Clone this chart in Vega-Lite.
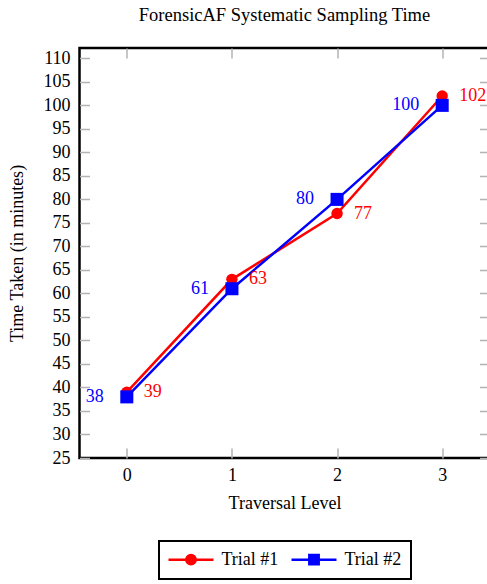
{
  "$schema": "https://vega.github.io/schema/vega-lite/v6.json",
  "autosize": "none",
  "width": 410,
  "height": 410,
  "padding": {"left": 79.5, "top": 48, "right": 0, "bottom": 126},
  "background": "white",
  "title": {"text": "ForensicAF Systematic Sampling Time", "fontSize": 18.5, "fontWeight": "normal", "font": "Liberation Serif", "color": "black", "anchor": "middle", "frame": "group", "baseline": "alphabetic", "offset": 8},
  "config": {
    "font": "Liberation Serif",
    "view": {"stroke": "black", "strokeWidth": 2.5},
    "axis": {"grid": false, "domain": false, "tickColor": "#b3b3b3", "tickWidth": 1.5, "tickSize": -10, "labelFontSize": 18, "labelColor": "black", "labelFont": "Liberation Serif", "titleFont": "Liberation Serif", "titleFontSize": 18, "titleFontWeight": "normal", "titleColor": "black"}
  },
  "data": {"values": [
    {"level": 0, "time": 39, "trial": "Trial #1"},
    {"level": 1, "time": 63, "trial": "Trial #1"},
    {"level": 2, "time": 77, "trial": "Trial #1"},
    {"level": 3, "time": 102, "trial": "Trial #1"},
    {"level": 0, "time": 38, "trial": "Trial #2"},
    {"level": 1, "time": 61, "trial": "Trial #2"},
    {"level": 2, "time": 80, "trial": "Trial #2"},
    {"level": 3, "time": 100, "trial": "Trial #2"}
  ]},
  "layer": [
    {
      "mark": {"type": "line", "strokeWidth": 2.5},
      "encoding": {
        "x": {"field": "level", "type": "quantitative", "scale": {"domain": [-0.45, 3.45], "nice": false, "zero": false},
          "axis": {"orient": "bottom", "values": [0, 1, 2, 3], "format": "d", "title": "Traversal Level", "labelPadding": 18.5, "titlePadding": 10}},
        "y": {"field": "time", "type": "quantitative", "scale": {"domain": [25, 112.2], "nice": false, "zero": false},
          "axis": {"orient": "left", "values": [25, 30, 35, 40, 45, 50, 55, 60, 65, 70, 75, 80, 85, 90, 95, 100, 105, 110], "title": "Time Taken (in minutes)", "labelPadding": 19.5, "titlePadding": 17}},
        "color": {"field": "trial", "type": "nominal", "scale": {"domain": ["Trial #1", "Trial #2"], "range": ["#ff0000", "#0000ff"]},
          "legend": {
            "orient": "none", "legendX": 79.5, "legendY": 493, "direction": "horizontal", "title": null,
            "strokeColor": "black", "padding": 9.5, "symbolSize": 169, "symbolStrokeWidth": 2.5, "symbolOffset": 13.5, "labelOffset": 21.5, "columnPadding": 8,
            "labelFontSize": 18, "labelFont": "Liberation Serif", "labelColor": "black", "labelBaseline": "middle",
            "encode": {
              "legend": {"update": {"strokeWidth": {"value": 2}}},
              "symbols": {"update": {
                "shape": {"signal": "datum.value === 'Trial #1' ? 'M-3.46,0H3.46M0.72,0A0.72,0.72,0,1,1,-0.72,0A0.72,0.72,0,1,1,0.72,0Z' : 'M-3.46,0H3.46M-0.72,-0.72H0.72V0.72H-0.72Z'"},
                "fill": {"signal": "datum.value === 'Trial #1' ? '#ff0000' : '#0000ff'"},
                "stroke": {"signal": "datum.value === 'Trial #1' ? '#ff0000' : '#0000ff'"},
                "strokeWidth": {"value": 2.5},
                "opacity": {"value": 1}
              }}
            }
          }}
      }
    },
    {
      "transform": [{"filter": "datum.trial === 'Trial #1'"}],
      "mark": {"type": "point", "shape": "circle", "filled": true, "opacity": 1, "size": 130, "color": "#ff0000"},
      "encoding": {
        "x": {"field": "level", "type": "quantitative", "axis": null},
        "y": {"field": "time", "type": "quantitative", "axis": null}
      }
    },
    {
      "transform": [{"filter": "datum.trial === 'Trial #2'"}],
      "mark": {"type": "point", "shape": "square", "filled": true, "opacity": 1, "size": 170, "color": "#0000ff"},
      "encoding": {
        "x": {"field": "level", "type": "quantitative", "axis": null},
        "y": {"field": "time", "type": "quantitative", "axis": null}
      }
    },
    {
      "transform": [{"filter": "datum.trial === 'Trial #1'"}],
      "mark": {"type": "text", "align": "left", "baseline": "middle", "dx": 17, "fontSize": 18, "font": "Liberation Serif", "color": "#ff0000"},
      "encoding": {
        "x": {"field": "level", "type": "quantitative", "axis": {"orient": "top", "values": [0, 1, 2, 3], "labels": false, "title": null, "minExtent": 0, "maxExtent": 0}},
        "y": {"field": "time", "type": "quantitative", "axis": {"orient": "right", "values": [25, 30, 35, 40, 45, 50, 55, 60, 65, 70, 75, 80, 85, 90, 95, 100, 105, 110], "labels": false, "title": null, "minExtent": 0, "maxExtent": 0}},
        "text": {"field": "time", "type": "quantitative"}
      }
    },
    {
      "transform": [{"filter": "datum.trial === 'Trial #2'"}],
      "mark": {"type": "text", "align": "right", "baseline": "middle", "dx": -23, "fontSize": 18, "font": "Liberation Serif", "color": "#0000ff"},
      "encoding": {
        "x": {"field": "level", "type": "quantitative", "axis": null},
        "y": {"field": "time", "type": "quantitative", "axis": null},
        "text": {"field": "time", "type": "quantitative"}
      }
    }
  ],
  "resolve": {"axis": {"x": "independent", "y": "independent"}}
}
